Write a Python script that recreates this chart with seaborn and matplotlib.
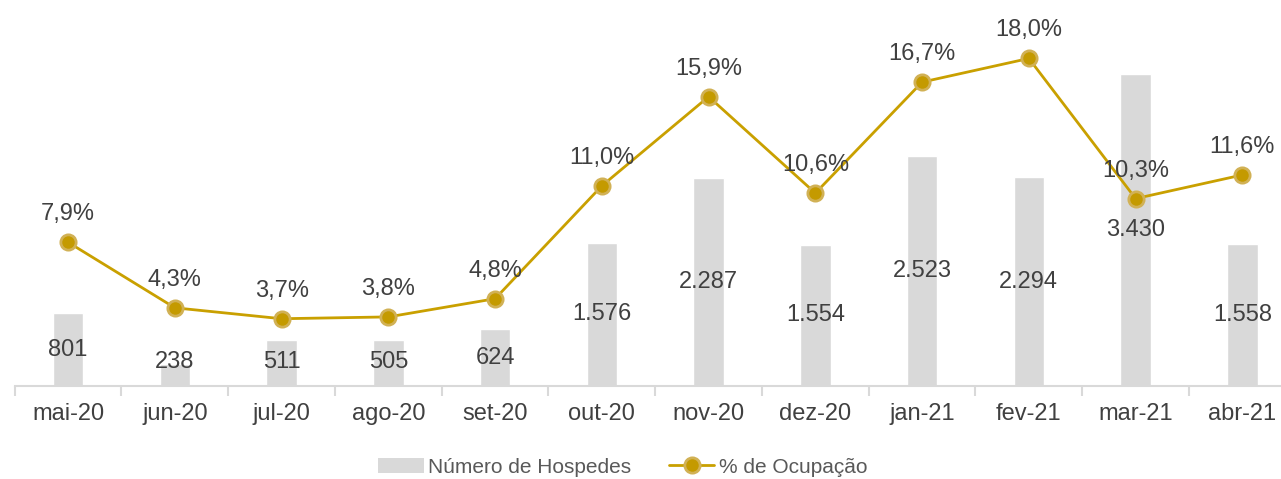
import numpy as np
import pandas as pd
import matplotlib
matplotlib.use("Agg")
import matplotlib.pyplot as plt
import seaborn as sns
from matplotlib.patches import Patch
from matplotlib.lines import Line2D

meses = ['mai-20', 'jun-20', 'jul-20', 'ago-20', 'set-20', 'out-20',
         'nov-20', 'dez-20', 'jan-21', 'fev-21', 'mar-21', 'abr-21']
hospedes = [801, 238, 511, 505, 624, 1576, 2287, 1554, 2523, 2294, 3430, 1558]
ocupacao = [7.9, 4.3, 3.7, 3.8, 4.8, 11.0, 15.9, 10.6, 16.7, 18.0, 10.3, 11.6]

df = pd.DataFrame({'Mes': meses, 'Hospedes': hospedes, 'Ocupacao': ocupacao})
df['pos'] = np.arange(len(df))

sns.set_style("white")
plt.rcParams['font.family'] = ['Liberation Sans', 'DejaVu Sans']

cor_texto = '#404040'
cor_barra = '#D9D9D9'
cor_linha = '#C9A000'

fig = plt.figure(figsize=(12.81, 4.79), dpi=100)
ax = fig.add_axes([0.0115, 0.194, 1.0, 0.76])

sns.barplot(x='Mes', y='Hospedes', data=df, color=cor_barra, width=0.285,
            saturation=1, ax=ax)
ax.set_ylim(0, 4000)
ax.set_xlim(-0.5, len(df) - 0.5)
ax.set_xlabel('')
ax.set_ylabel('')
ax.set_yticks([])

for i, v in enumerate(df['Hospedes']):
    y = max(v / 2, 260)
    ax.text(i, y, f'{v:,}'.replace(',', '.'), ha='center', va='center',
            fontsize=17, color=cor_texto)

# eixo x: ticks nas divisas entre categorias
ax.set_xticks(df['pos'])
ax.set_xticklabels(meses, fontsize=17, color=cor_texto)
ax.tick_params(axis='x', which='major', length=0, pad=12)
ax.set_xticks(np.arange(len(df) + 1) - 0.5, minor=True)
ax.tick_params(axis='x', which='minor', bottom=True, direction='out',
               length=7, color=cor_barra, width=1.5)
for s in ['top', 'right', 'left']:
    ax.spines[s].set_visible(False)
ax.spines['bottom'].set_color(cor_barra)
ax.spines['bottom'].set_linewidth(1.5)

ax2 = ax.twinx()
sns.lineplot(x='pos', y='Ocupacao', data=df, color=cor_linha, linewidth=2,
             marker='o', markersize=11, markerfacecolor='#C49A00',
             markeredgecolor='#D1B155', markeredgewidth=2, ax=ax2)
ax2.set_ylim(0, 20)
ax2.set_xlim(-0.5, len(df) - 0.5)
ax2.set_yticks([])
ax2.set_ylabel('')
ax2.set_xlabel('')
for s in ax2.spines.values():
    s.set_visible(False)

for i, v in enumerate(df['Ocupacao']):
    ax2.annotate(f'{v:.1f}%'.replace('.', ','), (i, v), xytext=(0, 28),
                 textcoords='offset pixels', ha='center', va='center',
                 fontsize=17, color=cor_texto)

handles = [
    Patch(facecolor=cor_barra, edgecolor='none', label='Número de Hospedes'),
    Line2D([0], [0], color=cor_linha, linewidth=2, marker='o', markersize=11,
           markerfacecolor='#C49A00', markeredgecolor='#D1B155',
           markeredgewidth=2, label='% de Ocupação'),
]
leg = fig.legend(handles=handles, loc='center', bbox_to_anchor=(0.486, 0.025),
                 ncol=2, frameon=False, fontsize=15, handlelength=2.2,
                 handletextpad=0.2, columnspacing=1.8)
for t in leg.get_texts():
    t.set_color('#595959')

fig.savefig('out.png', dpi=100, facecolor='white')
